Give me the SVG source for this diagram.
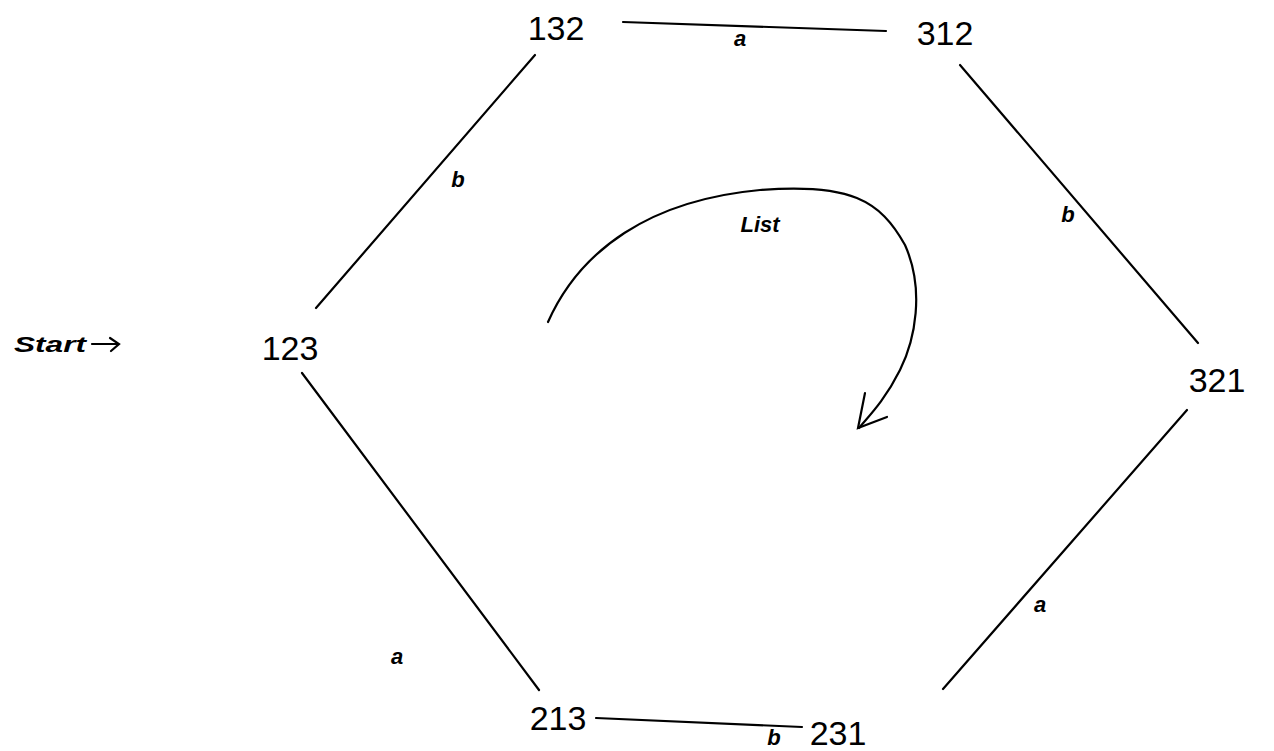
<svg xmlns="http://www.w3.org/2000/svg" width="1274" height="751" viewBox="0 0 1274 751">
<style>
.node{font-family:"Liberation Sans",Arial,sans-serif;font-size:34px;fill:#000}
.lbl{font-family:"Liberation Sans",Arial,sans-serif;font-size:22px;font-style:italic;font-weight:bold;fill:#000}
.edge{stroke:#000;stroke-width:2.2;fill:none;stroke-linecap:round}
</style>
<rect width="1274" height="751" fill="#fff"/>
<g id="connectors">
<line class="edge" x1="623" y1="22" x2="886" y2="31"/>
<line class="edge" x1="535" y1="55" x2="316" y2="308"/>
<line class="edge" x1="960" y1="65" x2="1198" y2="343"/>
<line class="edge" x1="302" y1="373" x2="539" y2="690"/>
<line class="edge" x1="1187" y1="410" x2="943" y2="689"/>
<line class="edge" x1="596" y1="718" x2="802" y2="727"/>
<path class="edge" d="M548,322 C580,250 650,200 760,190 C850,183 880,200 905,245 C925,290 915,340 900,370 C885,400 870,415 859,428" stroke-width="2.8"/>
<path class="edge" d="M865,393 L858,428 L887,417" stroke-width="2.8"/>
<path class="edge" d="M92,344 L118,344 M110,338 L119,344 L111,351" stroke-width="2.5"/>
<text class="lbl" x="740" y="46" text-anchor="middle">a</text>
<text class="lbl" x="458" y="187" text-anchor="middle">b</text>
<text class="lbl" x="1068" y="222" text-anchor="middle">b</text>
<text class="lbl" x="397" y="664" text-anchor="middle">a</text>
<text class="lbl" x="1040" y="612" text-anchor="middle">a</text>
<text class="lbl" x="774" y="745" text-anchor="middle" font-size="20">b</text>
<text class="lbl" x="760" y="232" text-anchor="middle">List</text>
</g>
<g id="n132"><text class="node" x="556" y="40" text-anchor="middle">132</text></g>
<g id="n312"><text class="node" x="945" y="45" text-anchor="middle">312</text></g>
<g id="n123"><text class="node" x="290" y="360" text-anchor="middle">123</text></g>
<g id="n321"><text class="node" x="1217" y="392" text-anchor="middle">321</text></g>
<g id="n213"><text class="node" x="558" y="730" text-anchor="middle">213</text></g>
<g id="n231"><text class="node" x="838" y="745" text-anchor="middle">231</text></g>
<g id="start"><text class="lbl" x="14" y="352" font-size="23" textLength="72" lengthAdjust="spacingAndGlyphs">Start</text></g>
</svg>
